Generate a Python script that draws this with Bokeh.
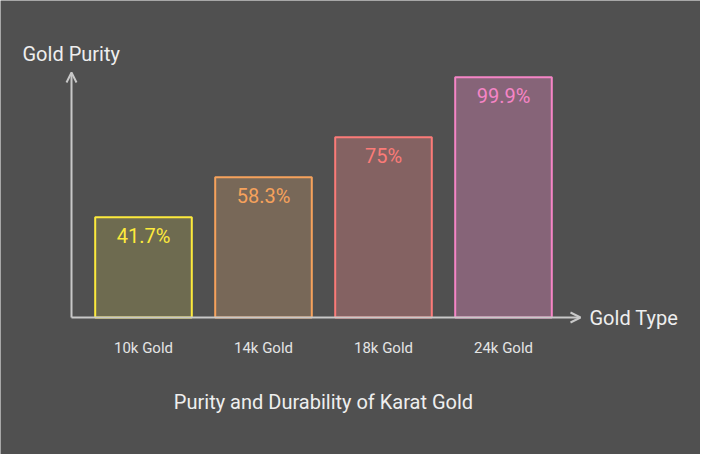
from bokeh.plotting import figure
from bokeh.models import ColumnDataSource, Range1d, Arrow, OpenHead, Label
from bokeh.core.properties import value
from bokeh.embed import file_html
from bokeh.resources import INLINE

# ---- data ----
categories = ["10k Gold", "14k Gold", "18k Gold", "24k Gold"]
purity = [41.7, 58.3, 75, 99.9]
line_colors = ["#fdea3c", "#f6a25c", "#fb7b78", "#f585c6"]
fill_colors = ["#6e6b50", "#786858", "#846262", "#866478"]
title_text = "Purity and Durability of Karat Gold"
x_title = "Gold Type"
y_title = "Gold Purity"

BG = "#505050"
AXIS = "#c8c8c8"
TEXT = "#eeeeee"
FONT = "Roboto"

xs = list(range(len(categories)))
src = ColumnDataSource(dict(
    x=xs, top=purity, line=line_colors, fill=fill_colors,
    label=[f"{v:g}%" for v in purity], cat=categories,
    zero=[0] * len(categories),
))

PX_X = 120.0     # px per category
PX_Y = 2.405     # px per purity unit
W, H = 700, 454
zero_px = 317    # figure px of y=0 from top
x0 = -143 / PX_X

p = figure(width=W, height=H, output_backend="svg", toolbar_location=None,
           x_range=Range1d(x0, x0 + W / PX_X),
           y_range=Range1d(-(H - zero_px) / PX_Y, zero_px / PX_Y),
           x_axis_location=None, y_axis_location=None, min_border=0,
           background_fill_color=BG, border_fill_color=BG, outline_line_color=None)
p.grid.visible = False

p.vbar(x="x", top="top", bottom=0, width=0.805, source=src,
       fill_color="fill", line_color="line", line_width=2)
p.text(x="x", y="top", text="label", source=src, y_offset=18.5,
       text_color="line", text_align="center", text_baseline="middle",
       text_font=value(FONT), text_font_size="20px")
# category labels
p.text(x="x", y="zero", text="cat", source=src, y_offset=30,
       text_color="#e4e4e4", text_align="center", text_baseline="middle",
       text_font=value(FONT), text_font_size="15px")

axis_x = (79 - 151) / PX_X
x_tip = (588 - 151) / PX_X
y_tip = (325 - 80) / PX_Y
p.add_layout(Arrow(end=OpenHead(size=10, line_color=AXIS, line_width=2),
                   x_start=axis_x, y_start=0, x_end=x_tip, y_end=0,
                   line_color=AXIS, line_width=2))
p.add_layout(Arrow(end=OpenHead(size=10, line_color=AXIS, line_width=2),
                   x_start=axis_x, y_start=0, x_end=axis_x, y_end=y_tip,
                   line_color=AXIS, line_width=2))

p.add_layout(Label(x=(30 - 151) / PX_X, y=(325 - 61) / PX_Y, text=y_title,
                   text_font=FONT, text_font_size="20px", text_color=TEXT,
                   text_align="left", text_baseline="middle"))
p.add_layout(Label(x=(597 - 151) / PX_X, y=0, text=x_title,
                   text_font=FONT, text_font_size="20px", text_color=TEXT,
                   text_align="left", text_baseline="middle"))
p.add_layout(Label(x=(331 - 151) / PX_X, y=(325 - 409) / PX_Y, text=title_text,
                   text_font=FONT, text_font_size="20px", text_color=TEXT,
                   text_align="center", text_baseline="middle"))

open("out.html", "w").write(file_html(p, INLINE))
